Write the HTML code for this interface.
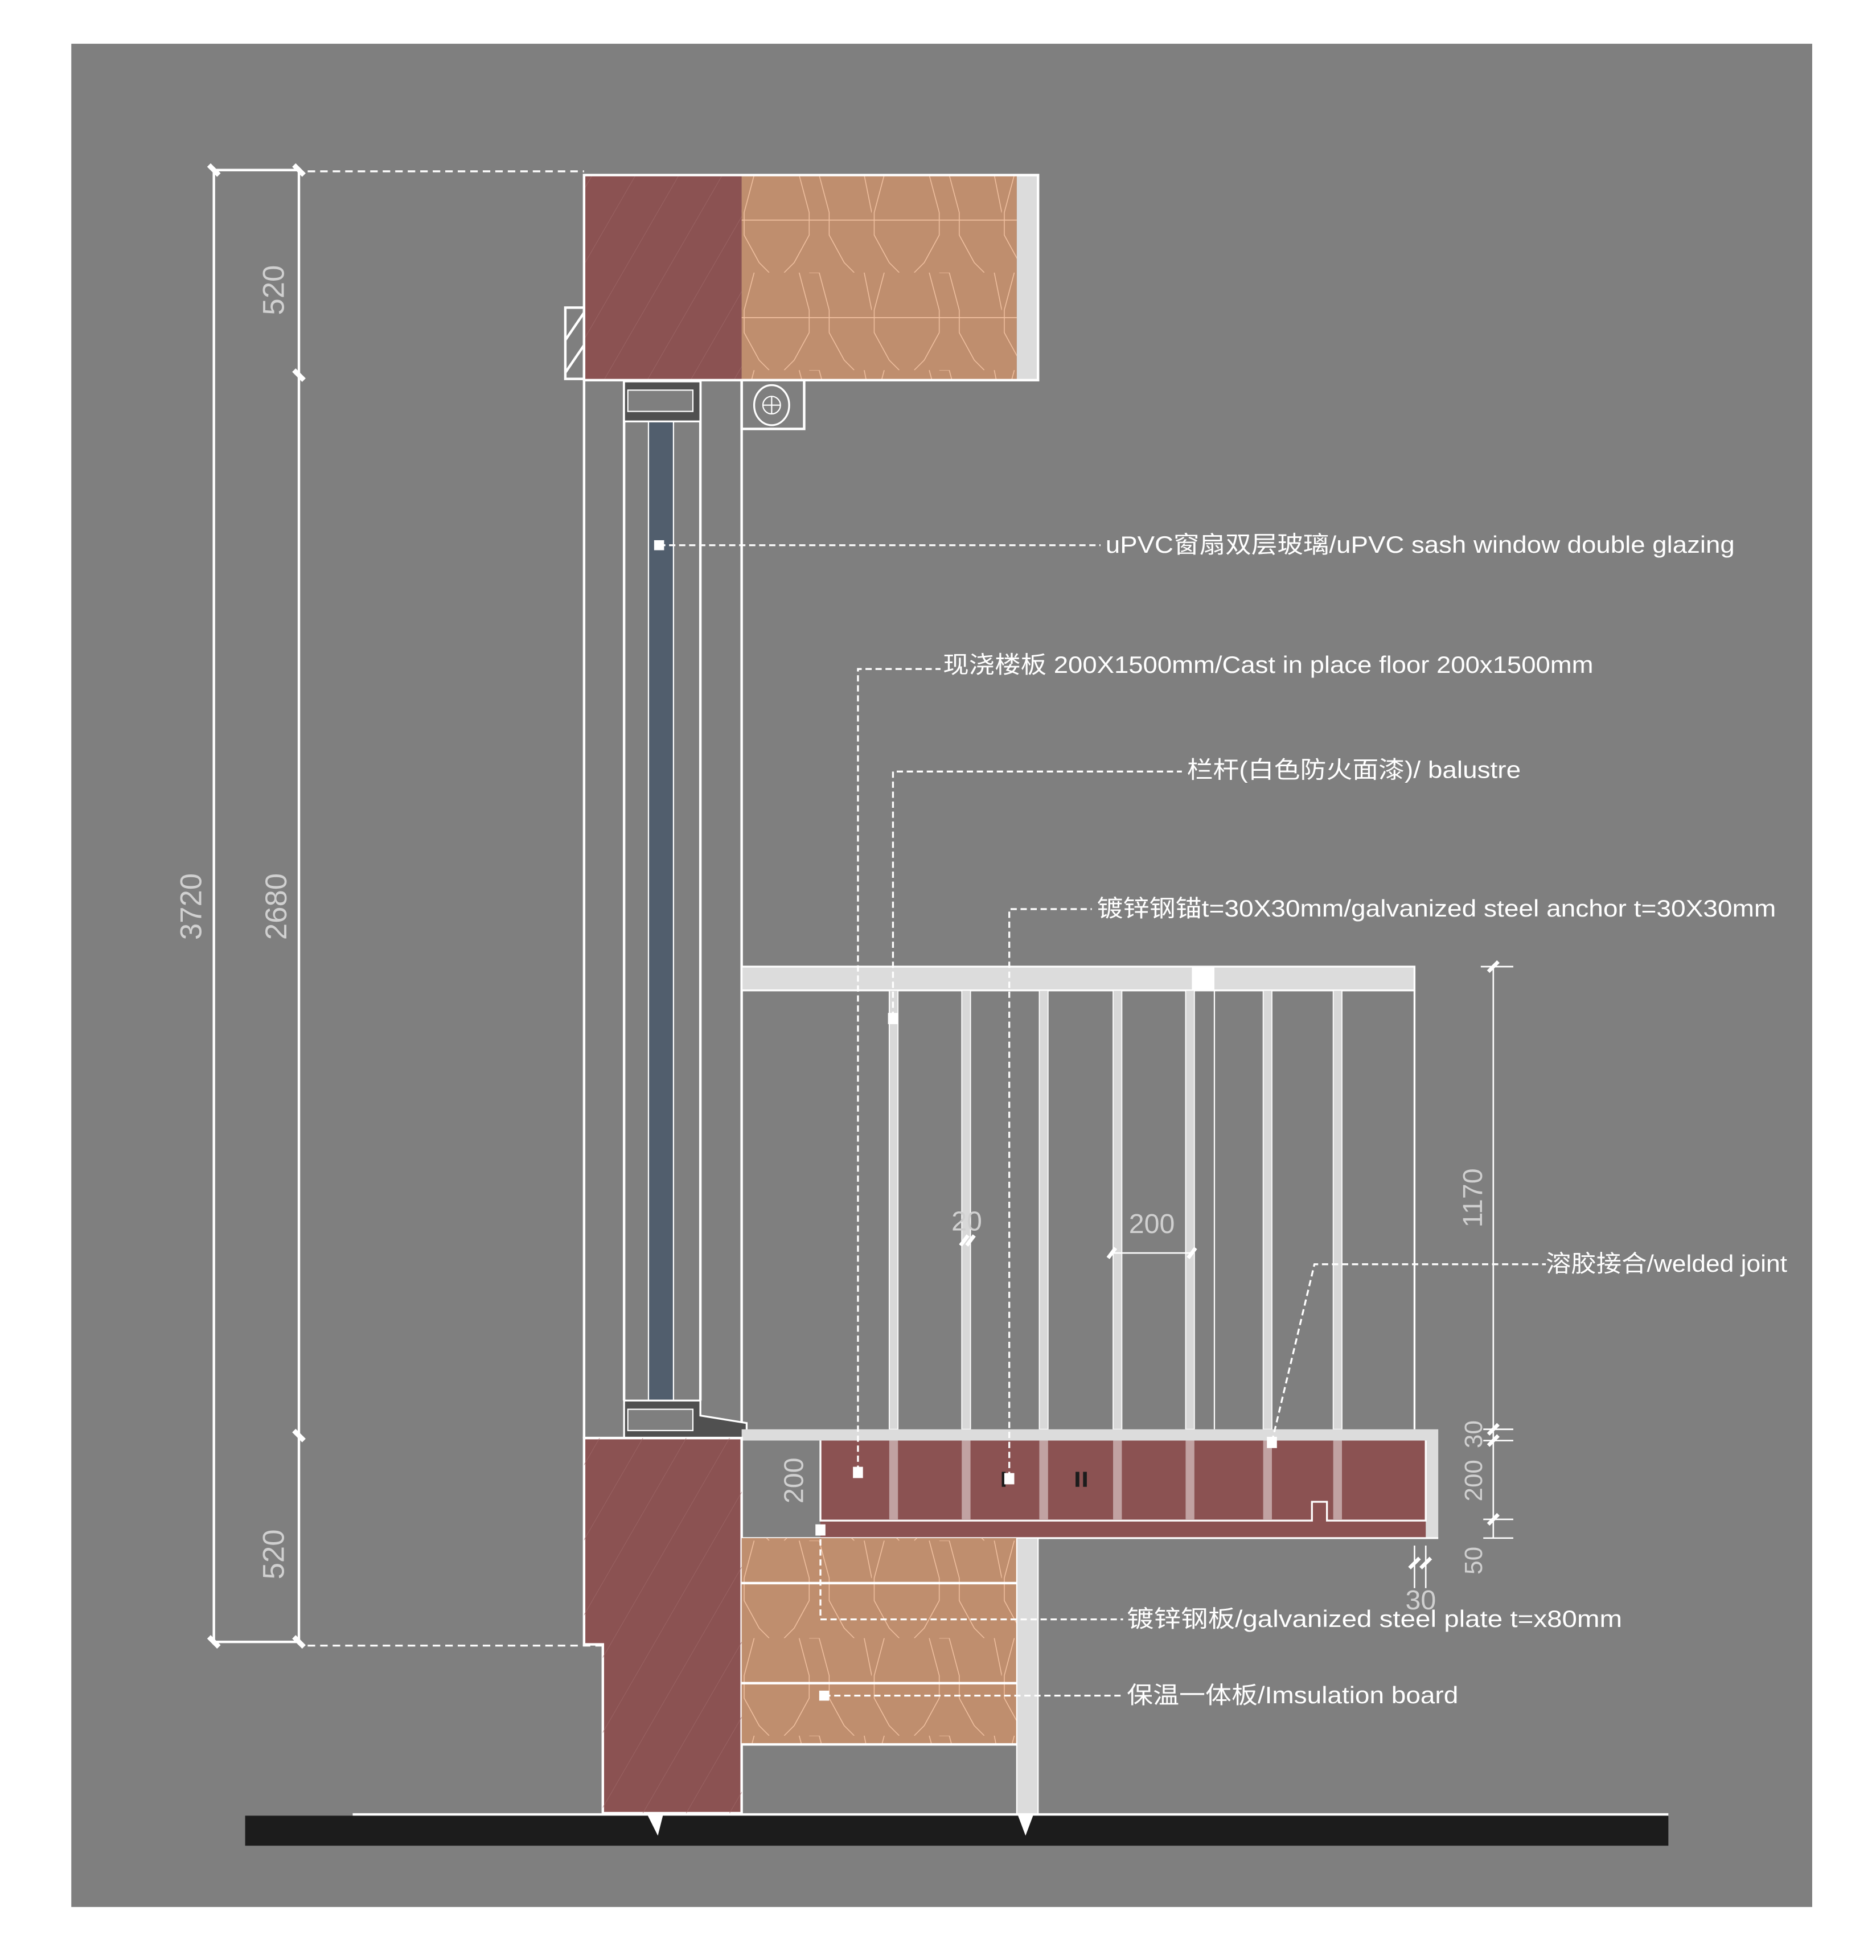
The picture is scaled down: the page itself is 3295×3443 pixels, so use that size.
<!DOCTYPE html>
<html><head><meta charset="utf-8"><style>html,body{margin:0;padding:0;background:#fff}svg{display:block}</style></head>
<body>
<svg width="3295" height="3443" viewBox="0 0 1500 1567.4" xmlns="http://www.w3.org/2000/svg">
<defs>
<pattern id="ins" width="104" height="78" patternUnits="userSpaceOnUse" x="593" y="140">
<path d="M10 0 L2 30 L2 48 L14 70 L22 78 M46 0 L54 30 L54 48 L42 70 L34 78 M62 0 L54 0 M62 0 L70 30 L70 48 L82 70 L90 78 M98 0 L104 30" fill="none" stroke="#f0c0a0" stroke-width="0.7"/>
</pattern>
<pattern id="hat" width="30" height="30" patternUnits="userSpaceOnUse" patternTransform="rotate(30)">
<line x1="0" y1="0" x2="0" y2="30" stroke="#a06a6a" stroke-width="0.6"/>
</pattern>
</defs>
<rect width="1500" height="1567.4" fill="#fff"/>
<rect x="57" y="35" width="1392" height="1490" fill="#7f7f7f"/>

<g font-family="'Liberation Sans','Noto Sans CJK SC',sans-serif" fill="#ddd" font-size="24">
<g stroke="#fff" stroke-width="2" fill="none">
<line x1="171" y1="135" x2="171" y2="1315"/>
<line x1="239" y1="135" x2="239" y2="1315"/>
<line x1="171" y1="136" x2="239" y2="136"/>
<line x1="171" y1="1313" x2="239" y2="1313"/>
</g>
<g stroke="#fff" stroke-width="4">
<line x1="167" y1="132" x2="175" y2="140"/><line x1="235" y1="132" x2="243" y2="140"/>
<line x1="235" y1="296" x2="243" y2="304"/><line x1="235" y1="1144" x2="243" y2="1152"/>
<line x1="167" y1="1309" x2="175" y2="1317"/><line x1="235" y1="1309" x2="243" y2="1317"/>
</g>
<g stroke="#fff" stroke-width="1.5" stroke-dasharray="6 4">
<line x1="246" y1="137" x2="467" y2="137"/>
<line x1="246" y1="1316" x2="482" y2="1316"/>
</g>
<g font-size="24" fill="#d0d0d0">
<text transform="translate(227,232) rotate(-90)" text-anchor="middle">520</text>
<text transform="translate(161,725) rotate(-90)" text-anchor="middle">3720</text>
<text transform="translate(229,725) rotate(-90)" text-anchor="middle">2680</text>
<text transform="translate(227,1243) rotate(-90)" text-anchor="middle">520</text>
</g>

<rect x="452" y="246" width="15" height="57" fill="none" stroke="#fff" stroke-width="2"/>
<line x1="452" y1="272" x2="467" y2="250" stroke="#fff" stroke-width="2"/>
<line x1="452" y1="298" x2="467" y2="276" stroke="#fff" stroke-width="2"/>
<rect x="467" y="140" width="126" height="164" fill="#8b5252"/>
<rect x="467" y="140" width="126" height="164" fill="url(#hat)"/>
<rect x="593" y="140" width="220" height="164" fill="#bf8e6e"/>
<rect x="593" y="140" width="220" height="164" fill="url(#ins)"/>
<line x1="593" y1="176" x2="813" y2="176" stroke="#f0c0a0" stroke-width="0.8"/>
<line x1="593" y1="254" x2="813" y2="254" stroke="#f0c0a0" stroke-width="0.8"/>
<rect x="813" y="140" width="17" height="164" fill="#dcdcdc"/>
<rect x="467" y="140" width="363" height="164" fill="none" stroke="#fff" stroke-width="2"/>

<g stroke="#fff" stroke-width="2" fill="none">
<line x1="467" y1="304" x2="467" y2="1150"/>
<line x1="593" y1="304" x2="593" y2="1143"/>
<line x1="499" y1="304" x2="499" y2="1120"/>
<line x1="560" y1="304" x2="560" y2="1120"/>
<line x1="519" y1="337" x2="519" y2="1120"/>
<line x1="538" y1="337" x2="538" y2="1120"/>
</g>
<rect x="519" y="337" width="19" height="783" fill="#515e6d"/>
<rect x="499" y="305" width="61" height="32" fill="#505050" stroke="#fff" stroke-width="1.5"/>
<rect x="502" y="312" width="52" height="17" fill="#7f7f7f" stroke="#fff" stroke-width="1"/>
<path d="M499 1120 H560 V1132 L597 1138 V1150 H499 Z" fill="#505050" stroke="#fff" stroke-width="1.5"/>
<rect x="502" y="1127" width="52" height="17" fill="#7f7f7f" stroke="#fff" stroke-width="1"/>
<rect x="593" y="304" width="50" height="39" fill="none" stroke="#fff" stroke-width="2"/>
<ellipse cx="617" cy="324" rx="14" ry="16" fill="none" stroke="#fff" stroke-width="1.5"/>
<circle cx="617" cy="324" r="7" fill="none" stroke="#fff" stroke-width="1"/>
<line x1="610" y1="324" x2="624" y2="324" stroke="#fff"/><line x1="617" y1="317" x2="617" y2="331" stroke="#fff"/>

<rect x="593" y="773" width="538" height="19" fill="#dcdcdc" stroke="#fff" stroke-width="1.5"/>
<rect x="953" y="773" width="18" height="19" fill="#fff"/>
<g fill="#d8d8d8" stroke="#fff" stroke-width="0.8">
<rect x="711" y="792" width="7" height="351"/><rect x="769" y="792" width="7" height="351"/>
<rect x="831" y="792" width="7" height="351"/><rect x="890" y="792" width="7" height="351"/>
<rect x="948" y="792" width="7" height="351"/><rect x="1010" y="792" width="7" height="351"/>
<rect x="1066" y="792" width="7" height="351"/>
</g>
<line x1="971" y1="792" x2="971" y2="1143" stroke="#fff" stroke-width="1"/>
<line x1="1131" y1="792" x2="1131" y2="1143" stroke="#fff" stroke-width="1.5"/>

<rect x="593" y="1143" width="557" height="87" fill="#dcdcdc"/>
<rect x="593" y="1152" width="63" height="78" fill="#7f7f7f"/>
<rect x="656" y="1152" width="484" height="78" fill="#8b5252"/>
<g fill="#d8c4c4" opacity="0.7">
<rect x="711" y="1152" width="7" height="63"/><rect x="769" y="1152" width="7" height="63"/>
<rect x="831" y="1152" width="7" height="63"/><rect x="890" y="1152" width="7" height="63"/>
<rect x="948" y="1152" width="7" height="63"/><rect x="1010" y="1152" width="7" height="63"/>
<rect x="1066" y="1152" width="7" height="63"/>
</g>
<path d="M656 1152 V1216 H1049 V1201 H1061 V1216 H1140 V1152" fill="none" stroke="#fff" stroke-width="1.5"/>
<line x1="593" y1="1230" x2="1150" y2="1230" stroke="#fff" stroke-width="1.5"/>
<rect x="801" y="1177" width="3" height="12" fill="#1c1c1c"/>
<rect x="860" y="1177" width="3" height="12" fill="#1c1c1c"/><rect x="866" y="1177" width="3" height="12" fill="#1c1c1c"/>

<path d="M467 1150 H593 V1450 H482 V1315 H467 Z" fill="#8b5252" stroke="#fff" stroke-width="2"/>
<path d="M467 1150 H593 V1450 H482 V1315 H467 Z" fill="url(#hat)"/>
<rect x="593" y="1230" width="220" height="165" fill="#bf8e6e"/>
<rect x="593" y="1230" width="220" height="165" fill="url(#ins)"/>
<g stroke="#fff" stroke-width="2"><line x1="593" y1="1266" x2="813" y2="1266"/><line x1="593" y1="1346" x2="813" y2="1346"/><line x1="593" y1="1395" x2="813" y2="1395"/></g>
<rect x="813" y="1230" width="17" height="222" fill="#dcdcdc" stroke="#fff" stroke-width="1"/>

<rect x="196" y="1452" width="1138" height="24" fill="#1c1c1c"/>
<line x1="282" y1="1451" x2="1334" y2="1451" stroke="#fff" stroke-width="2"/>
<path d="M518 1452 L526 1468 L530 1452 Z" fill="#fff"/>
<path d="M814 1452 L820 1468 L826 1452 Z" fill="#fff"/>

<g stroke="#fff" stroke-width="1.2">
<line x1="1194" y1="773" x2="1194" y2="1230"/>
<line x1="1184" y1="773" x2="1210" y2="773"/>
<line x1="1186" y1="1143" x2="1210" y2="1143"/><line x1="1186" y1="1152" x2="1210" y2="1152"/>
<line x1="1186" y1="1215" x2="1210" y2="1215"/><line x1="1186" y1="1230" x2="1210" y2="1230"/>
<line x1="1131" y1="1236" x2="1131" y2="1270"/><line x1="1140" y1="1236" x2="1140" y2="1270"/>
<line x1="889" y1="1002" x2="953" y2="1002"/>
</g>
<g stroke="#fff" stroke-width="3">
<line x1="1190" y1="777" x2="1198" y2="769"/><line x1="1190" y1="1147" x2="1198" y2="1139"/><line x1="1190" y1="1156" x2="1198" y2="1148"/>
<line x1="1190" y1="1219" x2="1198" y2="1211"/><line x1="1127" y1="1254" x2="1135" y2="1246"/><line x1="1136" y1="1254" x2="1144" y2="1246"/>
<line x1="768" y1="996" x2="774" y2="988"/><line x1="773" y1="996" x2="779" y2="988"/>
<line x1="886" y1="1006" x2="892" y2="998"/><line x1="950" y1="1006" x2="956" y2="998"/>
</g>
<g fill="#d0d0d0">
<text transform="translate(1185,958) rotate(-90)" text-anchor="middle" font-size="22">1170</text>
<text transform="translate(1185,1147) rotate(-90)" text-anchor="middle" font-size="20">30</text>
<text transform="translate(1185,1184) rotate(-90)" text-anchor="middle" font-size="20">200</text>
<text transform="translate(1185,1248) rotate(-90)" text-anchor="middle" font-size="20">50</text>
<text x="1136" y="1287" text-anchor="middle" font-size="22">30</text>
<text transform="translate(642,1184) rotate(-90)" text-anchor="middle" font-size="22">200</text>
<text x="773" y="984" text-anchor="middle" font-size="22">20</text>
<text x="921" y="986" text-anchor="middle" font-size="22">200</text>
</g>

<g stroke="#fff" stroke-width="1.5" stroke-dasharray="5 3" fill="none">
<line x1="527" y1="436" x2="880" y2="436"/>
<polyline points="686,1177 686,535 752,535"/>
<polyline points="714,814 714,617 945,617"/>
<polyline points="807,1182 807,727 873,727"/>
<polyline points="1017,1153 1051,1011 1236,1011"/>
<polyline points="656,1223 656,1295 898,1295"/>
<line x1="659" y1="1356" x2="898" y2="1356"/>
</g>
<g fill="#fff">
<rect x="523" y="432" width="8" height="8"/><rect x="682" y="1173" width="8" height="9"/>
<rect x="710" y="810" width="8" height="9"/><rect x="803" y="1178" width="8" height="9"/>
<rect x="1013" y="1149" width="8" height="9"/><rect x="652" y="1219" width="8" height="9"/>
<rect x="655" y="1352" width="8" height="8"/>
</g>
<g fill="#fff" font-size="19">
<text x="884" y="442" textLength="503" lengthAdjust="spacingAndGlyphs">uPVC窗扇双层玻璃/uPVC sash window double glazing</text>
<text x="754" y="538" textLength="520" lengthAdjust="spacingAndGlyphs">现浇楼板 200X1500mm/Cast in place floor 200x1500mm</text>
<text x="949" y="622" textLength="267" lengthAdjust="spacingAndGlyphs">栏杆(白色防火面漆)/ balustre</text>
<text x="877" y="733" textLength="543" lengthAdjust="spacingAndGlyphs">镀锌钢锚t=30X30mm/galvanized steel anchor t=30X30mm</text>
<text x="1236" y="1017" textLength="193" lengthAdjust="spacingAndGlyphs">溶胶接合/welded joint</text>
<text x="901" y="1301" textLength="396" lengthAdjust="spacingAndGlyphs">镀锌钢板/galvanized steel plate t=x80mm</text>
<text x="901" y="1362" textLength="265" lengthAdjust="spacingAndGlyphs">保温一体板/Imsulation board</text>
</g>
</g>
</svg>
</body></html>
